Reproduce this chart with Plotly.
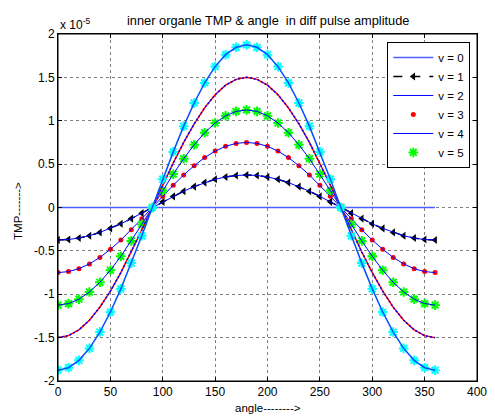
import plotly.graph_objects as go

# angle (degrees)
angle = [0, 10, 20, 30, 40, 50, 60, 70, 80, 90, 100, 110, 120, 130, 140, 150, 160, 170, 180,
         190, 200, 210, 220, 230, 240, 250, 260, 270, 280, 290, 300, 310, 320, 330, 340, 350, 360]

# TMP values in units of 1e-5
v0 = [0.0] * 37
v1 = [-0.375, -0.369, -0.352, -0.325, -0.287, -0.241, -0.188, -0.128, -0.065, 0.0,
      0.065, 0.128, 0.188, 0.241, 0.287, 0.325, 0.352, 0.369, 0.375,
      0.369, 0.352, 0.325, 0.287, 0.241, 0.188, 0.128, 0.065, 0.0,
      -0.065, -0.128, -0.188, -0.241, -0.287, -0.325, -0.352, -0.369, -0.375]
v2 = [-0.75, -0.739, -0.705, -0.650, -0.575, -0.482, -0.375, -0.257, -0.130, 0.0,
      0.130, 0.257, 0.375, 0.482, 0.575, 0.650, 0.705, 0.739, 0.75,
      0.739, 0.705, 0.650, 0.575, 0.482, 0.375, 0.257, 0.130, 0.0,
      -0.130, -0.257, -0.375, -0.482, -0.575, -0.650, -0.705, -0.739, -0.75]
v3 = [-1.125, -1.108, -1.057, -0.974, -0.862, -0.723, -0.563, -0.385, -0.195, 0.0,
      0.195, 0.385, 0.563, 0.723, 0.862, 0.974, 1.057, 1.108, 1.125,
      1.108, 1.057, 0.974, 0.862, 0.723, 0.563, 0.385, 0.195, 0.0,
      -0.195, -0.385, -0.563, -0.723, -0.862, -0.974, -1.057, -1.108, -1.125]
v4 = [-1.5, -1.477, -1.410, -1.299, -1.149, -0.964, -0.75, -0.513, -0.260, 0.0,
      0.260, 0.513, 0.75, 0.964, 1.149, 1.299, 1.410, 1.477, 1.5,
      1.477, 1.410, 1.299, 1.149, 0.964, 0.75, 0.513, 0.260, 0.0,
      -0.260, -0.513, -0.75, -0.964, -1.149, -1.299, -1.410, -1.477, -1.5]
v5 = [-1.875, -1.847, -1.762, -1.624, -1.436, -1.205, -0.938, -0.641, -0.326, 0.0,
      0.326, 0.641, 0.938, 1.205, 1.436, 1.624, 1.762, 1.847, 1.875,
      1.847, 1.762, 1.624, 1.436, 1.205, 0.938, 0.641, 0.326, 0.0,
      -0.326, -0.641, -0.938, -1.205, -1.436, -1.624, -1.762, -1.847, -1.875]

legend_names = ["v = 0", "v = 1", "v = 2", "v = 3", "v = 4", "v = 5"]
x_ticks = [0, 50, 100, 150, 200, 250, 300, 350, 400]
y_ticks = [-2, -1.5, -1, -0.5, 0, 0.5, 1, 1.5, 2]
y_ticklabels = ["-2", "-1.5", "-1", "-0.5", "0", "0.5", "1", "1.5", "2"]

BLUE = "#0000FF"
fig = go.Figure()

def add(y, name, legend=False, mode="lines", line=None, marker=None):
    fig.add_trace(go.Scatter(x=angle, y=y, mode=mode, name=name, showlegend=legend,
                             line=line or {}, marker=marker or {}))

add(v0, legend_names[0], True, line=dict(color="#5060FF", width=1.5))
add(v1, legend_names[1], True, mode="lines+markers", line=dict(color="black", width=1.5, dash="dash"),
    marker=dict(symbol="triangle-left", size=7, color="black"))
add(v1, legend_names[2], True, line=dict(color=BLUE, width=1))
add(v2, legend_names[3], True, mode="markers", marker=dict(symbol="circle", size=5, color="#FF0000"))
add(v2, legend_names[4], True, line=dict(color=BLUE, width=1))
add(v3, legend_names[5], True, mode="markers",
    marker=dict(symbol="asterisk-open", size=8, color="#00FF00", line=dict(color="#00FF00", width=2)))
add(v3, "v3 line", line=dict(color=BLUE, width=1))
add(v4, "v4 red", line=dict(color="#FF0000", width=1.5))
add(v4, "v4 blue", line=dict(color=BLUE, width=1.5, dash="2px,2px"))
add(v5, "v5 marks", mode="markers",
    marker=dict(symbol="asterisk-open", size=8, color="#00FFFF", line=dict(color="#00FFFF", width=2)))
add(v5, "v5 line", line=dict(color="#0050FF", width=1.5))

axis_common = dict(showline=True, linecolor="black", linewidth=1, mirror="ticks",
                   ticks="inside", ticklen=4, tickcolor="black", ticklabeloverflow="allow",
                   showgrid=True, gridcolor="#808080", griddash="dot", gridwidth=1,
                   zeroline=False, tickfont=dict(family="Liberation Sans, Arial", size=12, color="black"))

fig.update_layout(
    width=495, height=416,
    margin=dict(l=58, r=8, t=34, b=35),
    paper_bgcolor="white", plot_bgcolor="white",
    font=dict(family="Liberation Sans, Arial", color="black"),
    xaxis=dict(range=[0, 400], tickvals=x_ticks, **axis_common),
    yaxis=dict(range=[-2, 2], tickvals=y_ticks, ticktext=y_ticklabels, **axis_common),
    legend=dict(x=0.984, y=0.977, xanchor="right", yanchor="top",
                bgcolor="white", bordercolor="black", borderwidth=1, itemwidth=40,
                font=dict(size=11.5, color="black"), tracegroupgap=0),
    shapes=[dict(type="rect", xref="paper", yref="paper", x0=0, x1=1, y0=0, y1=1,
                 line=dict(color="black", width=1), layer="above")],
    annotations=[
        dict(text="inner organle TMP & angle  in diff pulse amplitude", xref="paper", yref="paper",
             x=0.5, y=1.0, yshift=14, xanchor="center", yanchor="middle", showarrow=False,
             font=dict(size=12.8)),
        dict(text="x 10<sup>-5</sup>", xref="paper", yref="paper", x=0.0, y=1.0, yshift=10,
             xanchor="left", yanchor="middle", showarrow=False, font=dict(size=12)),
        dict(text="angle-------->", xref="paper", yref="paper", x=0.5, y=0, yshift=-27,
             xanchor="center", yanchor="middle", showarrow=False, font=dict(size=11.5)),
        dict(text="TMP------->", xref="paper", yref="paper", x=0, xshift=-40, y=0.49,
             xanchor="center", yanchor="middle", textangle=-90, showarrow=False, font=dict(size=11.5)),
    ],
)

fig.write_html("out.html", config={"displayModeBar": False},
               post_script="document.body.style.margin='0px';document.body.style.overflow='hidden';")
